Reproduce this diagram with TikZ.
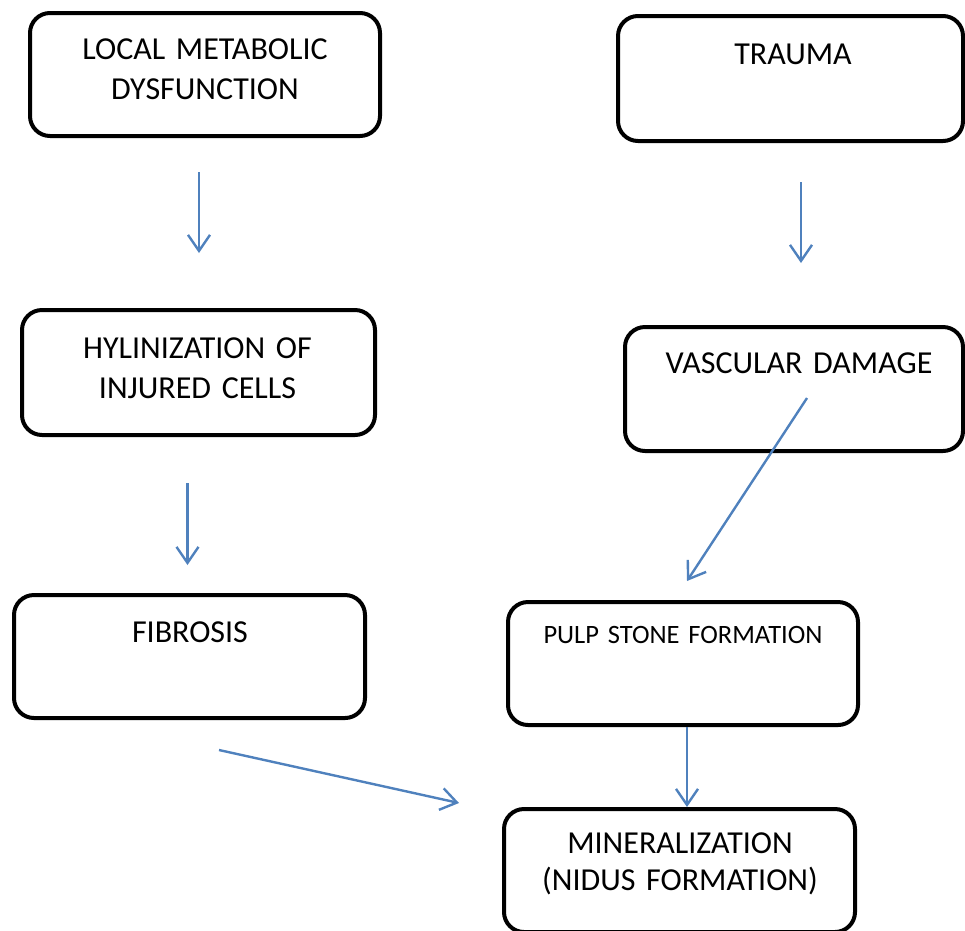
\documentclass[tikz,border=0pt]{standalone}
\usepackage{fontspec}
\setmainfont{Carlito}
\usetikzlibrary{arrows.meta,calc}
\definecolor{arrowblue}{HTML}{4F81BD}
\begin{document}
\begin{tikzpicture}[x=1pt,y=-1pt,
  box/.style={draw=black, line width=4pt, rounded corners=20pt, inner sep=0pt},
  lbl/.style={font=\fontsize{32}{40}\selectfont, inner sep=0pt, anchor=base, align=center, text width=345pt},
  flow/.style={draw=arrowblue, line width=2.4pt, -{Straight Barb[length=16pt,width=22pt]}}
]
\useasboundingbox (0,0) rectangle (965,930);
% boxes
\node[box, minimum width=350pt, minimum height=123pt] (b1) at (205,74.5) {};
\node[box, minimum width=345pt, minimum height=125pt] (b2) at (790.5,78.5) {};
\node[box, minimum width=338pt, minimum height=124pt] (b4) at (794,389) {};
\node[box, minimum width=353pt, minimum height=125pt] (b3) at (198.5,372.5) {};
\node[box, minimum width=351pt, minimum height=123pt] (b5) at (189.5,656.5) {};
\node[box, minimum width=350pt, minimum height=123pt] (b6) at (683,663.5) {};
\node[box, minimum width=351pt, minimum height=123pt] (b7) at (679.5,870.5) {};
% labels
\node[lbl] (t1) at (205,59) {LOCAL METABOLIC\\DYSFUNCTION};
\node[lbl] (t2) at (793,64) {TRAUMA};
\node[lbl] (t3) at (197.5,358) {HYLINIZATION OF\\INJURED CELLS};
\node[lbl] (t4) at (799,373) {VASCULAR DAMAGE};
\node[lbl] (t5) at (190,642) {FIBROSIS};
\node[lbl, font=\fontsize{26.5}{30}\selectfont] (t6) at (683,643) {PULP STONE FORMATION};
\node[lbl, font=\fontsize{32}{37}\selectfont] (t7) at (680,853) {MINERALIZATION\\(NIDUS FORMATION)};
% connector end points
\coordinate (a1s) at (199,172);  \coordinate (a1e) at (199,253);
\coordinate (a2s) at (801,182);  \coordinate (a2e) at (801,263);
\coordinate (a3s) at (187.5,483); \coordinate (a3e) at (187.5,565);
\coordinate (a4s) at (807,398);  \coordinate (a4e) at (687,581);
\coordinate (a5s) at ($(b6.south)+(4,0)$); \coordinate (a5e) at ($(b7.north)+(7,0)$);
\coordinate (a6s) at (219,750);  \coordinate (a6e) at (459,803);
% connectors
\draw[flow] (a1s) -- (a1e);
\draw[flow] (a2s) -- (a2e);
\draw[flow] (a3s) -- (a3e);
\draw[flow] (a4s) -- (a4e);
\draw[flow] (a5s) -- (a5s |- a5e);
\draw[flow] (a6s) -- (a6e);
\end{tikzpicture}
\end{document}
